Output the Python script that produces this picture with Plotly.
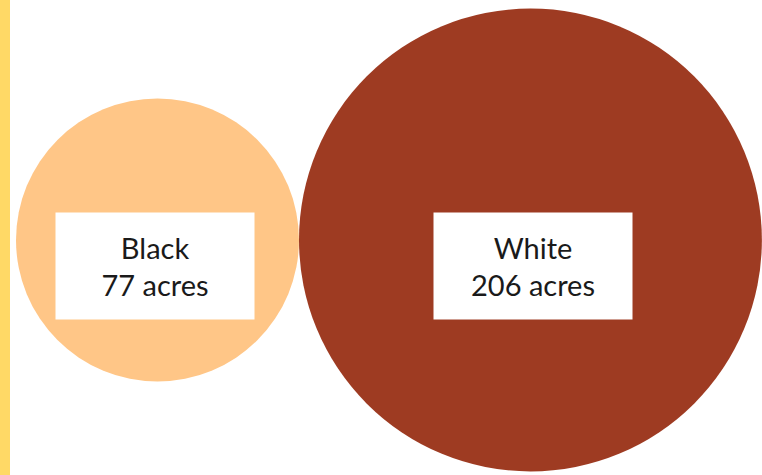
import math
import plotly.graph_objects as go

# Data
groups = ["Black", "White"]
acres = [77, 206]
colors = ["#FFC687", "#9E3B22"]

W, H = 762, 475
scale = 141.5 / math.sqrt(77)  # pixels per sqrt(acre)
radii = [scale * math.sqrt(a) for a in acres]

left = 16
cy = 240
label_dx = [-2.5, 2.5]
centers = []
x = left
for r in radii:
    centers.append(x + r)
    x += 2 * r

fig = go.Figure()
shapes = [
    dict(type="rect", xref="paper", yref="paper", x0=0, x1=10 / W, y0=0, y1=1,
         fillcolor="#FFD966", line=dict(width=0), layer="below"),
]
for cx, r, c in zip(centers, radii, colors):
    shapes.append(dict(type="circle", xref="x", yref="y",
                       x0=cx - r, x1=cx + r, y0=cy - r, y1=cy + r,
                       fillcolor=c, line=dict(width=0), layer="below"))

annotations = []
for g, a, cx, dx in zip(groups, acres, centers, label_dx):
    annotations.append(dict(
        x=cx, y=cy, xref="x", yref="y", yshift=-26, xshift=dx,
        text=f"{g}<br>{a} acres", showarrow=False,
        bgcolor="white", width=198, height=106, borderpad=0,
        font=dict(family="Lato", size=29, color="#1a1a1a"),
        align="center", valign="middle",
    ))

fig.update_layout(
    width=W, height=H,
    margin=dict(l=0, r=0, t=0, b=0),
    paper_bgcolor="white", plot_bgcolor="white",
    xaxis=dict(range=[0, W], visible=False, fixedrange=True),
    yaxis=dict(range=[H, 0], visible=False, fixedrange=True),
    shapes=shapes, annotations=annotations, showlegend=False,
)
fig.add_trace(go.Scatter(x=[], y=[]))
fig.write_html(
    "out.html",
    config={"displayModeBar": False},
    post_script="document.body.style.margin='0';document.body.style.overflow='hidden';",
)
